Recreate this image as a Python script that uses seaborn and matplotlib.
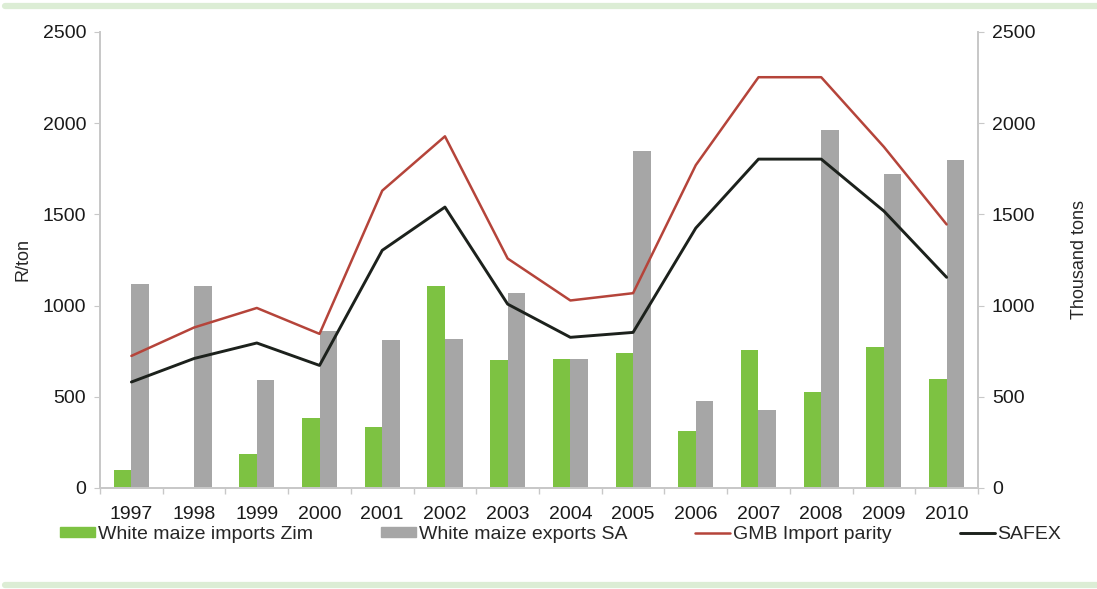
import numpy as np
import pandas as pd
import matplotlib
matplotlib.use("Agg")
import matplotlib.pyplot as plt
import seaborn as sns
from matplotlib.patches import Patch
from matplotlib.lines import Line2D

years = ['1997', '1998', '1999', '2000', '2001', '2002', '2003',
         '2004', '2005', '2006', '2007', '2008', '2009', '2010']
zim_imports = [100, 0, 185, 385, 335, 1105, 700, 705, 740, 312, 757, 526, 772, 598]
sa_exports = [1118, 1110, 592, 860, 810, 815, 1068, 707, 1845, 478, 425, 1965, 1720, 1798]
gmb_parity = [724, 880, 987, 845, 1630, 1928, 1258, 1028, 1068, 1770, 2252, 2252, 1870, 1445]
safex = [581, 710, 795, 672, 1303, 1540, 1008, 826, 853, 1425, 1803, 1803, 1518, 1155]

GREEN = '#7dc242'
GREY = '#a6a6a6'
RED = '#b5443a'
BLACK = '#1c211c'
AXIS_GREY = '#c8c8c8'

sns.set_theme(style='white')
plt.rcParams['font.family'] = ['Liberation Sans', 'DejaVu Sans']

bars = pd.DataFrame({
    'year': years * 2,
    'tons': zim_imports + sa_exports,
    'series': ['White maize imports Zim'] * len(years) + ['White maize exports SA'] * len(years),
})

fig = plt.figure(figsize=(10.97, 5.89), dpi=100)
ax = fig.add_axes([0.0912, 0.1715, 0.8003, 0.7742])
ax2 = ax.twinx()

# bars on the right axis (thousand tons)
sns.barplot(data=bars, x='year', y='tons', hue='series', order=years,
            palette=[GREEN, GREY], width=0.56, saturation=1, ax=ax2,
            legend=False, errorbar=None, linewidth=0)

# price lines on the left axis (R/ton)
pos = np.arange(len(years))
sns.lineplot(x=pos, y=gmb_parity, color=RED, lw=1.8, ax=ax)
sns.lineplot(x=pos, y=safex, color=BLACK, lw=2.1, ax=ax)

ax.set_zorder(ax2.get_zorder() + 1)
ax.patch.set_visible(False)

for a in (ax, ax2):
    a.set_ylim(0, 2500)
    a.set_yticks([0, 500, 1000, 1500, 2000, 2500])
    a.set_xlim(-0.5, len(years) - 0.5)
    a.tick_params(axis='y', labelsize=14, length=4, width=0.8, color=AXIS_GREY,
                  colors='#1a1a1a', pad=6)
    a.spines['top'].set_visible(False)
    a.spines['left'].set_color(AXIS_GREY)
    a.spines['right'].set_color(AXIS_GREY)
    a.spines['bottom'].set_color(AXIS_GREY)
    a.grid(False)

ax.set_xticks(pos)
ax.set_xticklabels(years)
ax.set_xticks(np.arange(-0.5, len(years)), minor=True)
ax.tick_params(axis='x', which='major', length=0, labelsize=14, colors='#1a1a1a', pad=13)
ax.tick_params(axis='x', which='minor', length=4, color=AXIS_GREY, bottom=True)
ax2.set_xlabel('')
ax.set_xlabel('')
ax.set_ylabel('R/ton', fontsize=13, labelpad=8)
ax2.set_ylabel('Thousand tons', fontsize=13, labelpad=26)

handles = [Patch(color=GREEN), Patch(color=GREY),
           Line2D([], [], color=RED, lw=1.8), Line2D([], [], color=BLACK, lw=2.1)]
labels = ['White maize imports Zim', 'White maize exports SA', 'GMB Import parity', 'SAFEX']
fig.legend(handles, labels, loc='center', bbox_to_anchor=(0.511, 0.093), ncol=4,
           frameon=False, fontsize=14, handlelength=1.8, handleheight=0.45,
           handletextpad=0.15, columnspacing=3.5)

# light green rules at top and bottom
fig.add_artist(plt.Line2D([0.005, 1.0], [0.989, 0.989], color='#dcedd5', lw=4.5,
                          transform=fig.transFigure))
fig.add_artist(plt.Line2D([0.005, 1.0], [0.006, 0.006], color='#dcedd5', lw=4.5,
                          transform=fig.transFigure))

fig.savefig('out.png', dpi=100)
